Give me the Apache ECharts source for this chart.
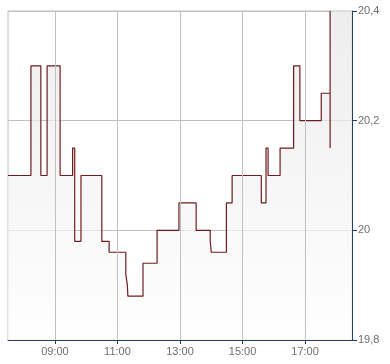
<!DOCTYPE html>
<html>
<head>
<meta charset="utf-8">
<script src="https://cdn.jsdelivr.net/npm/echarts@6/dist/echarts.min.js"></script>
<style>
html,body{margin:0;padding:0;background:#fff;}
#c{width:390px;height:364px;}
</style>
</head>
<body>
<div id="c"></div>
<script>
// Step changes: time at which the price becomes the value
const times = ["07:30","08:14","08:33","08:45","09:10","09:34","09:38","09:50","10:30","10:44",
               "11:16","11:19","11:20","11:49","12:16","12:58","13:31","13:58","14:00","14:29",
               "14:40","15:36","15:45","15:49","16:12","16:38","16:50","17:31","17:48","17:48"];
const values = [20.10,20.30,20.10,20.30,20.10,20.15,19.98,20.10,19.98,19.96,
                19.92,19.90,19.88,19.94,20.00,20.05,20.00,19.98,19.96,20.05,
                20.10,20.05,20.15,20.10,20.15,20.30,20.20,20.25,20.40,20.15];
const xTickLabels = ["09:00","11:00","13:00","15:00","17:00"];
const yTicks = [19.8, 20.0, 20.2, 20.4];
const xStart = "07:30", xEnd = "18:30";

function toH(s){const p=s.split(':');return +p[0] + (+p[1])/60;}
function fmtH(v){const h=Math.floor(v+1e-9), m=Math.round((v-h)*60);return String(h).padStart(2,'0')+':'+String(m).padStart(2,'0');}

const lineData = times.map((t,i)=>[toH(t), values[i]]);
// fill closes to the right edge at the last high
const fillData = lineData.slice(0, lineData.length-1).concat([[toH(xEnd), values[values.length-2]]]);
const tickVals = xTickLabels.map(toH);

const chart = echarts.init(document.getElementById('c'), null, {renderer:'canvas'});
const navy = '#1f3d70';
const grey = '#c0c0c0';
const lab = {color:'#6e6e6e', fontSize:11, fontFamily:'"Liberation Sans", Arial, sans-serif'};

chart.setOption({
  animation:false,
  backgroundColor:'#fff',
  grid:{left:8, right:38, top:11, bottom:24, show:true, borderColor:grey, borderWidth:1, backgroundColor:'transparent'},
  xAxis:{
    type:'value', min:toH(xStart), max:toH(xEnd),
    axisLine:{show:true, lineStyle:{color:navy, width:1}},
    axisTick:{show:true, length:4, customValues:tickVals, lineStyle:{color:navy}},
    axisLabel:Object.assign({customValues:tickVals, margin:6, formatter:v=>fmtH(v)}, lab),
    splitLine:{show:false}
  },
  yAxis:{
    type:'value', position:'right', min:yTicks[0], max:yTicks[yTicks.length-1], interval:0.2,
    axisLine:{show:true, onZero:false, lineStyle:{color:navy, width:1}},
    axisTick:{show:true, length:5, lineStyle:{color:navy}},
    axisLabel:Object.assign({margin:6, formatter:v=>String(Math.round(v*10)/10).replace('.',',')}, lab),
    splitLine:{show:true, lineStyle:{color:grey, width:1}}
  },
  series:[
    {
      type:'line', step:'end', data:fillData, symbol:'none', silent:true,
      lineStyle:{width:0, opacity:0},
      areaStyle:{origin:'start', color:new echarts.graphic.LinearGradient(0,0,0,1,[
        {offset:0, color:'#e6e6e6'},{offset:1, color:'#fefefe'}])},
      z:1,
      markLine:{silent:true, symbol:'none', label:{show:false},
        lineStyle:{color:grey, width:1, type:'solid'},
        data:tickVals.map(v=>({xAxis:v}))}
    },
    {
      type:'line', step:'end', data:lineData, symbol:'none', silent:true,
      lineStyle:{color:'#6e1c1c', width:1.2},
      z:3
    }
  ]
});
</script>
</body>
</html>
